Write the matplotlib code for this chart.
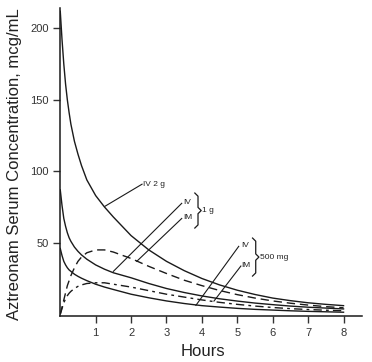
import matplotlib
matplotlib.use("Agg")
import matplotlib.pyplot as plt

plt.rcParams['font.family'] = ['Liberation Sans', 'DejaVu Sans']

# time points (hours) and serum concentrations (mcg/mL)
hours = [0, 0.05, 0.1, 0.15, 0.2, 0.25, 0.3, 0.4, 0.5, 0.6, 0.75, 1, 1.25,
         1.5, 2, 2.5, 3, 3.5, 4, 4.5, 5, 5.5, 6, 6.5, 7, 7.5, 8]
iv_2g = [212, 192, 175, 161, 150, 141, 133, 121, 112, 104, 94, 83, 75,
         68, 55, 45, 37, 30.5, 25, 20.5, 16.8, 13.8, 11.3, 9.5, 8, 6.9, 6]
iv_1g = [87, 76, 67, 61.5, 57, 53.5, 51, 47, 44, 41.5, 38.5, 34.5, 31.5,
         29, 25.5, 21.5, 18, 15.2, 12.8, 10.8, 9.2, 7.8, 6.7, 5.7, 4.9, 4.3, 3.7]
im_1g = [0, 5, 10, 15, 20, 23.5, 27, 32.5, 37, 40, 43, 45, 45,
         43.5, 39, 33.5, 28.5, 23.8, 20, 16.6, 13.7, 11.3, 9.3, 7.7, 6.4, 5.3, 4.5]
iv_500 = [46, 41, 37, 34.5, 32.5, 31, 30, 28, 26.5, 25.2, 23.5, 21, 19,
          17.3, 14, 11.5, 9.3, 7.5, 6, 5, 4.1, 3.4, 2.9, 2.4, 2.0, 1.7, 1.4]
im_500 = [0, 4, 8, 10.8, 13, 14.7, 16, 18, 19.5, 20.5, 21.5, 22, 22,
          21, 19, 16.5, 14, 12, 10, 8.3, 6.9, 5.7, 4.7, 3.9, 3.3, 2.8, 2.4]

x_ticks = [1, 2, 3, 4, 5, 6, 7, 8]
y_ticks = [50, 100, 150, 200]

fig = plt.figure(figsize=(3.72, 3.62), dpi=100)
ax = fig.add_axes([0.162, 0.127, 0.811, 0.851])

ink = '#1a1a1a'
lw = 1.0
ax.plot(hours, iv_2g, color=ink, lw=lw)
ax.plot(hours, iv_1g, color=ink, lw=lw)
ax.plot(hours, im_1g, color=ink, lw=lw, dashes=(6, 3.5))
ax.plot(hours, iv_500, color=ink, lw=lw)
ax.plot(hours, im_500, color=ink, lw=lw, dashes=(6, 3, 2, 3))

ax.set_xlim(0, 8.52)
ax.set_ylim(-1.26, 214.3)
ax.set_xticks(x_ticks)
ax.set_yticks(y_ticks)
ax.tick_params(direction='out', length=5, width=1, labelsize=8,
               colors='#333333')
for side in ['top', 'right']:
    ax.spines[side].set_visible(False)
for side in ['left', 'bottom']:
    ax.spines[side].set_linewidth(1.1)
    ax.spines[side].set_color(ink)


def pointer(x0, y0, x1, y1):
    ax.plot([x0, x1], [y0, y1], color=ink, lw=0.8)


def brace(x, y0, y1):
    # small curly bracket, opening to the left
    d = 0.09
    e = 2.2
    ym = (y0 + y1) / 2
    ax.plot([x - d, x, x, x + d, x, x, x - d],
            [y1, y1 - e, ym + e, ym, ym - e, y0 + e, y0],
            color=ink, lw=0.9)


lab = dict(fontsize=6, va='center', ha='left', color='#222222')

# IV 2 g
pointer(1.26, 75.5, 2.31, 91)
ax.text(2.33, 91, 'IV 2 g', **lab)

# 1 g pair
pointer(1.5, 30, 3.43, 77.6)
pointer(2.16, 37, 3.43, 67)
ax.text(3.47, 78.5, 'IV', **lab)
ax.text(3.47, 67.5, 'IM', **lab)
brace(3.89, 60.3, 84.8)
ax.text(4.0, 72.5, '1 g', **lab)

# 500 mg pair
pointer(3.83, 6.2, 5.04, 47.5)
pointer(4.34, 9.2, 5.1, 33.7)
ax.text(5.12, 48.4, 'IV', **lab)
ax.text(5.12, 34.4, 'IM', **lab)
brace(5.52, 26.7, 53.3)
ax.text(5.63, 40, '500 mg', **lab)

fig.text(15 / 372, 1 - 164.5 / 362, 'Aztreonam Serum Concentration, mcg/mL',
         rotation=90, ha='center', va='center', fontsize=12, color='#222222')
fig.text(203 / 372, 1 - 352 / 362, 'Hours', ha='center', va='center',
         fontsize=12, color='#222222')

fig.savefig('out.png', dpi=100)
